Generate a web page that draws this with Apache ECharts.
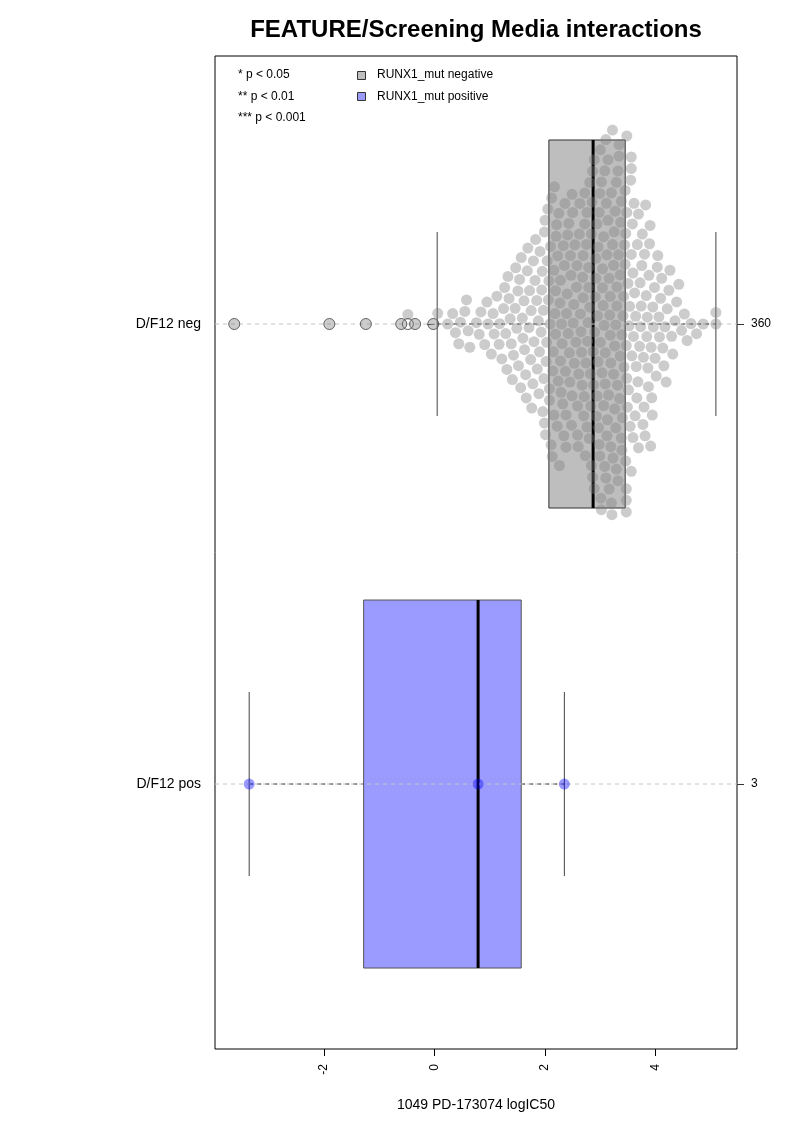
<!DOCTYPE html>
<html><head><meta charset="utf-8">
<script src="https://cdn.jsdelivr.net/npm/echarts@6/dist/echarts.min.js"></script>
<style>html,body{margin:0;padding:0;background:#fff}#c{width:793px;height:1122px}</style>
</head><body><div id="c"></div>
<script>
const chartTitle = 'FEATURE/Screening Media interactions';
const xAxisName = '1049 PD-173074 logIC50';
const categories = ['D/F12 neg', 'D/F12 pos'];
const xTicks = [-2, 0, 2, 4];
const legendLabels = ['RUNX1_mut negative', 'RUNX1_mut positive'];
const pLabels = ['* p < 0.05', '** p < 0.01', '*** p < 0.001'];
// boxplot statistics [lower whisker, Q1, median, Q3, upper whisker]
const negStats = [0.05, 2.07, 2.87, 3.45, 5.09];
const posStats = [-3.35, -1.28, 0.79, 1.57, 2.35];
const posValues = [-3.35, 0.79, 2.35];
const negValues = [
 -3.62, -1.90, -1.24, -0.60, -0.48, -0.35, -0.02,
 0.06, 0.24, 0.33, 0.38, 0.44, 0.47, 0.55, 0.58, 0.61, 0.64, 0.76, 0.81, 0.84, 0.91, 0.95, 0.97,
 1.03, 1.06, 1.08, 1.13, 1.17, 1.18, 1.22, 1.25, 1.27, 1.29,
 1.31, 1.33, 1.35, 1.37, 1.39,
 1.41, 1.43, 1.46, 1.47, 1.49,
 1.51, 1.52, 1.54, 1.56, 1.57, 1.59,
 1.60, 1.62, 1.63, 1.65, 1.66, 1.68, 1.69,
 1.71, 1.72, 1.74, 1.75, 1.76, 1.78, 1.79,
 1.80, 1.82, 1.83, 1.85, 1.86, 1.88, 1.89,
 1.90, 1.91, 1.93, 1.94, 1.95, 1.96, 1.97, 1.98, 1.99, 1.99,
 2.00, 2.01, 2.02, 2.03, 2.04, 2.05, 2.06, 2.07, 2.08, 2.08, 2.09,
 2.10, 2.11, 2.12, 2.13, 2.14, 2.15, 2.16, 2.16, 2.17, 2.18, 2.19, 2.19,
 2.20, 2.21, 2.22, 2.23, 2.24, 2.25, 2.26, 2.27, 2.28, 2.28, 2.29,
 2.30, 2.31, 2.32, 2.33, 2.34, 2.35, 2.36, 2.37, 2.38, 2.38, 2.39,
 2.40, 2.41, 2.42, 2.43, 2.44, 2.45, 2.46, 2.47, 2.48, 2.49, 2.49,
 2.50, 2.51, 2.52, 2.53, 2.54, 2.56, 2.57, 2.58, 2.59, 2.59,
 2.60, 2.61, 2.62, 2.63, 2.64, 2.65, 2.66, 2.67, 2.68, 2.69, 2.69,
 2.70, 2.71, 2.72, 2.72, 2.73, 2.74, 2.75, 2.76, 2.76, 2.77, 2.78, 2.79, 2.79,
 2.80, 2.81, 2.81, 2.82, 2.83, 2.84, 2.84, 2.85, 2.86, 2.86, 2.87, 2.88, 2.89, 2.89,
 2.90, 2.91, 2.92, 2.92, 2.93, 2.94, 2.94, 2.95, 2.96, 2.96, 2.97, 2.98, 2.98, 2.99, 2.99,
 3.00, 3.00, 3.01, 3.02, 3.02, 3.03, 3.04, 3.04, 3.05, 3.06, 3.06, 3.07, 3.08, 3.08, 3.09, 3.09,
 3.10, 3.10, 3.11, 3.12, 3.12, 3.13, 3.14, 3.14, 3.15, 3.16, 3.16, 3.17, 3.18, 3.18, 3.19, 3.19,
 3.20, 3.20, 3.21, 3.22, 3.22, 3.23, 3.24, 3.24, 3.25, 3.26, 3.26, 3.27, 3.28, 3.28, 3.29, 3.29,
 3.30, 3.30, 3.31, 3.32, 3.32, 3.33, 3.34, 3.34, 3.35, 3.36, 3.36, 3.37, 3.38, 3.38, 3.39, 3.39,
 3.40, 3.41, 3.42, 3.43, 3.44, 3.45, 3.45, 3.46, 3.46, 3.47, 3.47, 3.47, 3.47, 3.48, 3.48, 3.48, 3.49,
 3.50, 3.51, 3.52, 3.53, 3.54, 3.55, 3.56, 3.56, 3.56, 3.56, 3.57, 3.58, 3.59, 3.59,
 3.60, 3.61, 3.62, 3.63, 3.64, 3.65, 3.66, 3.67, 3.68, 3.69, 3.69,
 3.71, 3.72, 3.73, 3.74, 3.75, 3.76, 3.77, 3.78, 3.79,
 3.80, 3.81, 3.82, 3.83, 3.84, 3.85, 3.86, 3.87, 3.88, 3.89,
 3.90, 3.91, 3.92, 3.93, 3.94, 3.95, 3.96, 3.98, 3.99,
 4.01, 4.03, 4.04, 4.06, 4.07, 4.09,
 4.11, 4.13, 4.15, 4.17, 4.19,
 4.21, 4.24, 4.26, 4.29,
 4.31, 4.35, 4.38,
 4.42, 4.47,
 4.52, 4.57,
 4.64, 4.74, 4.86,
 5.09, 5.09
];
const counts = [negValues.length, posValues.length];

// ---- layout constants ----
const FONT = '"Liberation Sans", Arial, Helvetica, sans-serif';
const G = {left: 215, top: 56, width: 522, height: 993};
const xMin = -3.968, xMax = 5.472;
const yMin = 0.4174, yMax = 2.576;
const pxPerX = G.width / (xMax - xMin);
const pxPerY = G.height / (yMax - yMin);
const PT = 11;      // point diameter (px)
const SPACING = 11.6; // swarm spacing (px)

// beeswarm "swarm" layout, ascending priority (positive offset = upward)
function swarmOffsets(vals) {
  const idx = vals.map((v, i) => i).sort((a, b) => vals[a] - vals[b]);
  const placed = [];
  const offs = new Array(vals.length).fill(0);
  for (const i of idx) {
    const x = vals[i] * pxPerX / SPACING;
    const pre = placed.filter(p => x - p.x < 1);
    let y = 0;
    if (pre.length) {
      pre.sort((a, b) => Math.abs(a.y) - Math.abs(b.y));
      const up = pre.map(p => p.y + Math.sqrt(Math.max(0, 1 - (x - p.x) ** 2)));
      const dn = pre.map(p => p.y - Math.sqrt(Math.max(0, 1 - (x - p.x) ** 2)));
      const cands = [0].concat(up, dn);
      let best = 0, bestAbs = Infinity;
      for (const c of cands) {
        const bad = pre.some(p => (x - p.x) ** 2 + (c - p.y) ** 2 < 0.999);
        if (!bad && Math.abs(c) < bestAbs) { best = c; bestAbs = Math.abs(c); }
      }
      y = best;
    }
    placed.push({x, y});
    offs[i] = y * SPACING;
  }
  return offs;
}

const negOffs = swarmOffsets(negValues);
const posOffs = swarmOffsets(posValues);
const negPoints = negValues.map((v, i) => [v, 1 - negOffs[i] / pxPerY]);
const posPoints = posValues.map((v, i) => [v, 2 - posOffs[i] / pxPerY]);
const negOutliers = negValues.filter(v => v < negStats[0] || v > negStats[4]).map(v => [v, 1]);
const posOutliers = posValues.filter(v => v < posStats[0] || v > posStats[4]).map(v => [v, 2]);

const boxFill = ['#bebebe', '#9b9bff'];
const boxStroke = ['#333333', '#555555'];

function renderBox(params, api) {
  const c = api.value(0);
  const lo = api.value(1), q1 = api.value(2), md = api.value(3), q3 = api.value(4), hi = api.value(5);
  const P = (x, y) => api.coord([x, y]);
  const hw = 0.4, sw = 0.2;
  const a = P(q1, c - hw), b = P(q3, c + hw);
  const ch = [];
  const cy = P(0, c)[1];
  ch.push({type: 'line', shape: {x1: P(lo, c)[0], y1: cy, x2: a[0], y2: cy},
    style: {stroke: '#222', lineWidth: 1, lineDash: [4, 4]}});
  ch.push({type: 'line', shape: {x1: b[0], y1: cy, x2: P(hi, c)[0], y2: cy},
    style: {stroke: '#222', lineWidth: 1, lineDash: [4, 4]}});
  [lo, hi].forEach(v => {
    const t = P(v, c - sw), u = P(v, c + sw);
    ch.push({type: 'line', shape: {x1: t[0], y1: t[1], x2: u[0], y2: u[1]},
      style: {stroke: '#444', lineWidth: 1}});
  });
  ch.push({type: 'rect', shape: {x: Math.min(a[0], b[0]), y: Math.min(a[1], b[1]),
      width: Math.abs(b[0] - a[0]), height: Math.abs(b[1] - a[1])},
    style: {fill: boxFill[params.dataIndex], stroke: boxStroke[params.dataIndex], lineWidth: 1}});
  const m1 = P(md, c - hw), m2 = P(md, c + hw);
  ch.push({type: 'line', shape: {x1: m1[0], y1: m1[1], x2: m2[0], y2: m2[1]},
    style: {stroke: '#000', lineWidth: 3}});
  // dashed reference line across the plot
  ch.push({type: 'line', shape: {x1: P(xMin, c)[0], y1: cy, x2: P(xMax, c)[0], y2: cy},
    style: {stroke: '#c4c4c4', lineWidth: 1, lineDash: [4, 4]}});
  return {type: 'group', children: ch};
}

const chart = echarts.init(document.getElementById('c'), null, {renderer: 'canvas'});
const option = {
  animation: false,
  backgroundColor: '#ffffff',
  textStyle: {fontFamily: FONT},
  grid: {left: G.left, top: G.top, width: G.width, height: G.height, show: true,
    borderColor: '#000', borderWidth: 1, backgroundColor: 'transparent'},
  xAxis: {
    type: 'value', min: xMin, max: xMax,
    axisLine: {show: false}, splitLine: {show: false},
    axisTick: {show: true, customValues: xTicks, length: 7, lineStyle: {color: '#000'}},
    axisLabel: {customValues: xTicks, rotate: 90, margin: 15, fontSize: 12, color: '#000', fontFamily: FONT},
    name: xAxisName, nameLocation: 'middle', nameGap: 49,
    nameTextStyle: {fontSize: 14, color: '#000', fontFamily: FONT}
  },
  yAxis: [{
    type: 'value', inverse: true, min: yMin, max: yMax, position: 'left',
    axisLine: {show: false}, splitLine: {show: false},
    axisTick: {show: true, customValues: [1, 2], length: 7, lineStyle: {color: '#333'}},
    axisLabel: {customValues: [1, 2], formatter: v => categories[Math.round(v) - 1],
      margin: 14, fontSize: 14, color: '#000', fontFamily: FONT}
  }, {
    type: 'value', inverse: true, min: yMin, max: yMax, position: 'right',
    axisLine: {show: false}, splitLine: {show: false},
    axisTick: {show: true, customValues: [1, 2], length: 7, lineStyle: {color: '#333'}},
    axisLabel: {customValues: [1, 2], formatter: v => String(counts[Math.round(v) - 1]),
      margin: 14, fontSize: 12, color: '#000', fontFamily: FONT}
  }],
  series: [
    {type: 'custom', coordinateSystem: 'cartesian2d', renderItem: renderBox, z: 2, silent: true,
      encode: {x: [1, 2, 3, 4, 5], y: 0},
      data: [[1].concat(negStats), [2].concat(posStats)]},
    {type: 'scatter', z: 3, silent: true, symbolSize: PT,
      itemStyle: {color: 'rgba(0,0,0,0)', borderColor: '#333', borderWidth: 1},
      data: negOutliers.concat(posOutliers)},
    {type: 'scatter', z: 4, silent: true, symbolSize: PT,
      itemStyle: {color: 'rgba(128,128,128,0.5)'}, data: negPoints},
    {type: 'scatter', z: 4, silent: true, symbolSize: PT,
      itemStyle: {color: 'rgba(0,0,255,0.5)'}, data: posPoints}
  ],
  graphic: [
    {type: 'text', x: 476, y: 30, silent: true,
      style: {text: chartTitle, font: 'bold 24px ' + FONT, fill: '#000', align: 'center', verticalAlign: 'middle'}},
    {type: 'text', x: 238, y: 75, silent: true,
      style: {text: pLabels[0], font: '12px ' + FONT, fill: '#000', align: 'left', verticalAlign: 'middle'}},
    {type: 'text', x: 238, y: 97, silent: true,
      style: {text: pLabels[1], font: '12px ' + FONT, fill: '#000', align: 'left', verticalAlign: 'middle'}},
    {type: 'text', x: 238, y: 118, silent: true,
      style: {text: pLabels[2], font: '12px ' + FONT, fill: '#000', align: 'left', verticalAlign: 'middle'}},
    {type: 'rect', silent: true, shape: {x: 357.5, y: 71.5, width: 8, height: 8},
      style: {fill: boxFill[0], stroke: '#333', lineWidth: 1}},
    {type: 'rect', silent: true, shape: {x: 357.5, y: 92.5, width: 8, height: 8},
      style: {fill: boxFill[1], stroke: '#333', lineWidth: 1}},
    {type: 'text', x: 377, y: 75, silent: true,
      style: {text: legendLabels[0], font: '12px ' + FONT, fill: '#000', align: 'left', verticalAlign: 'middle'}},
    {type: 'text', x: 377, y: 97, silent: true,
      style: {text: legendLabels[1], font: '12px ' + FONT, fill: '#000', align: 'left', verticalAlign: 'middle'}}
  ]
};
chart.setOption(option);
</script></body></html>
